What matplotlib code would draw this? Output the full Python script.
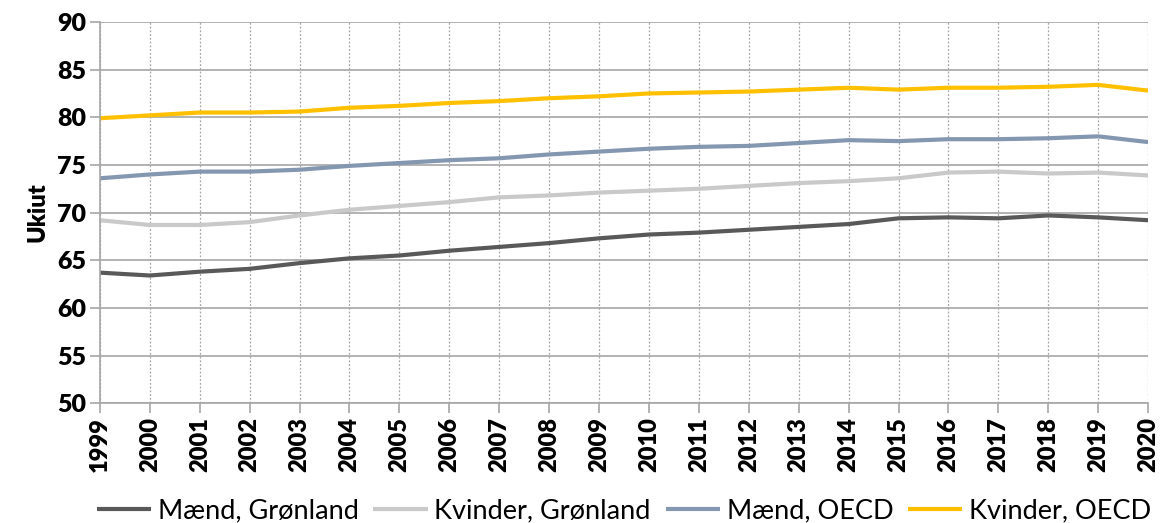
import matplotlib.pyplot as plt

years = list(range(1999, 2021))

maend_gl = [63.7, 63.4, 63.8, 64.1, 64.7, 65.2, 65.5, 66.0, 66.4, 66.8, 67.3,
            67.7, 67.9, 68.2, 68.5, 68.8, 69.4, 69.5, 69.4, 69.7, 69.5, 69.2]
kvinder_gl = [69.2, 68.7, 68.7, 69.0, 69.7, 70.3, 70.7, 71.1, 71.6, 71.8, 72.1,
              72.3, 72.5, 72.8, 73.1, 73.3, 73.6, 74.2, 74.3, 74.1, 74.2, 73.9]
maend_oecd = [73.6, 74.0, 74.3, 74.3, 74.5, 74.9, 75.2, 75.5, 75.7, 76.1, 76.4,
              76.7, 76.9, 77.0, 77.3, 77.6, 77.5, 77.7, 77.7, 77.8, 78.0, 77.4]
kvinder_oecd = [79.9, 80.2, 80.5, 80.5, 80.6, 81.0, 81.2, 81.5, 81.7, 82.0, 82.2,
                82.5, 82.6, 82.7, 82.9, 83.1, 82.9, 83.1, 83.1, 83.2, 83.4, 82.8]

labels = ["Mænd, Grønland", "Kvinder, Grønland", "Mænd, OECD", "Kvinder, OECD"]
colors = ["#595959", "#C9C9C9", "#8497B0", "#FFC000"]

plt.rcParams['font.family'] = ['Lato', 'DejaVu Sans']

fig = plt.figure(figsize=(11.62, 5.23), dpi=100)
ax = fig.add_axes([0.086, 0.229, 0.902, 0.729])

for vals, lab, col in zip([maend_gl, kvinder_gl, maend_oecd, kvinder_oecd], labels, colors):
    ax.plot(years, vals, color=col, lw=3, label=lab, solid_capstyle='butt')

ax.set_xlim(1999, 2020)
ax.set_ylim(50, 90)
ax.set_yticks(range(50, 91, 5))
ax.set_xticks(years)
ax.set_xticklabels([str(y) for y in years], rotation=90, fontweight='heavy', fontsize=17)
for t in ax.get_yticklabels():
    t.set_fontweight('heavy')
    t.set_fontsize(18)

ax.grid(axis='y', color='#A6A6A6', lw=1.2, ls='-')
ax.grid(axis='x', color='#A6A6A6', lw=0.9, ls=(0, (1.5, 1.5)))
ax.set_axisbelow(True)

for s in ['top', 'right']:
    ax.spines[s].set_visible(False)
for s in ['left', 'bottom']:
    ax.spines[s].set_color('#A6A6A6')
    ax.spines[s].set_linewidth(1.2)
ax.tick_params(axis='both', color='#A6A6A6', length=7, width=1.2, pad=3)

ax.set_ylabel("Ukiut", fontweight='heavy', fontsize=17, labelpad=6)

fig.legend(loc='lower center', ncol=4, frameon=False, fontsize=19.5,
           bbox_to_anchor=(0.537, -0.048), handlelength=2.0, columnspacing=0.55,
           handletextpad=0.25)

fig.savefig("out.png", dpi=100)
